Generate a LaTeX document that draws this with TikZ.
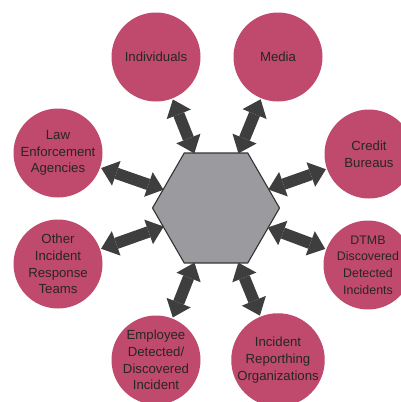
\documentclass[tikz,border=0pt]{standalone}
\usepackage{fontspec}
\setmainfont{Liberation Sans}
\usetikzlibrary{shapes.geometric,arrows.meta}
\definecolor{circfill}{HTML}{C04A6E}
\definecolor{hexfill}{HTML}{9B9B9F}
\definecolor{arrowcol}{HTML}{3E3E3E}
\tikzset{
  party/.style={circle,fill=circfill,minimum size=89pt,inner sep=0pt,align=center,
    font=\fontsize{13.2}{16.8}\selectfont,text=black!85},
  hexbox/.style={regular polygon,regular polygon sides=6,minimum size=127pt,inner sep=0pt,
    fill=hexfill,draw=black!80,line width=1.1pt},
  link/.style={draw=arrowcol,line width=11.5pt,
    {Triangle[length=16pt,width=26pt,line width=0pt]}-{Triangle[length=16pt,width=26pt,line width=0pt]}}
}
\begin{document}
\begin{tikzpicture}[x=1pt,y=-1pt]
\useasboundingbox (0,0) rectangle (401,402);
\node[hexbox] (hex) at (216,208) {};
\node[party] (ind) at (156,57) {Individuals};
\node[party] (med) at (278,57) {Media};
\node[party] (law) at (58,153) {Law\\Enforcement\\Agencies};
\node[party] (cre) at (369,154) {Credit\\Bureaus};
\node[party] (oth) at (58,264) {Other\\Incident\\Response\\Teams};
\node[party,font=\fontsize{12.4}{16.8}\selectfont] (dtm) at (368,265) {DTMB\\Discovered\\Detected\\Incidents};
\node[party] (emp) at (156,360) {Employee\\Detected/\\Discovered\\Incident};
\node[party] (inc) at (278,360) {Incident\\Reporthing\\Organizations};
\foreach \n in {ind,med,law,cre,oth,dtm,emp,inc}
  \draw[link,shorten <=1pt,shorten >=-1pt] (\n) -- (hex);
\end{tikzpicture}
\end{document}
